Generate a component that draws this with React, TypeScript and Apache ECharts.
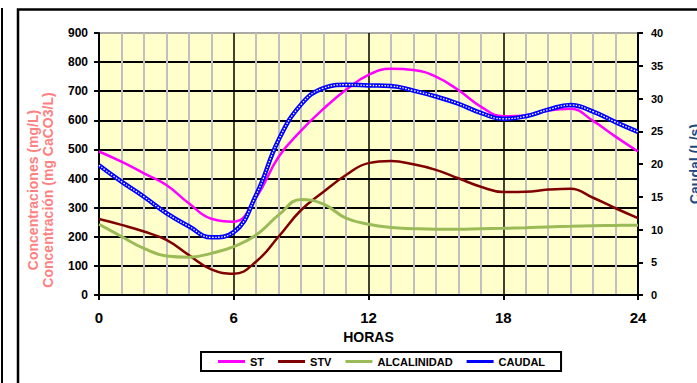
import React, { useEffect, useRef } from "react";
import * as echarts from "echarts";

const HOURS = [0, 1, 2, 3, 4, 5, 6, 7, 8, 9, 10, 11, 12, 13, 14, 15, 16, 17, 18, 19, 20, 21, 22, 23, 24];
const ST = [493, 458, 418, 378, 315, 262, 252, 335, 475, 565, 640, 705, 756, 777, 773, 750, 704, 647, 614, 617, 634, 640, 598, 544, 493];
const STV = [261, 241, 218, 189, 137, 88, 73, 115, 201, 292, 355, 412, 453, 460, 449, 430, 401, 372, 354, 355, 362, 365, 334, 298, 264];
const ALCALINIDAD = [243, 201, 160, 134, 130, 143, 166, 206, 275, 328, 312, 264, 243, 232, 228, 226, 226, 228, 229, 231, 234, 236, 238, 239, 240];
const CAUDAL = [19.8, 17.3, 15.0, 12.5, 10.5, 8.8, 9.6, 15.3, 23.7, 29.1, 31.6, 32.1, 32.0, 31.9, 31.2, 30.3, 29.2, 27.8, 26.9, 27.3, 28.3, 29.0, 28.0, 26.4, 24.9];

const LEGEND = ["ST", "STV", "ALCALINIDAD", "CAUDAL"];
const X_NAME = "HORAS";
const Y_LEFT_NAMES = ["Concentraciones (mg/L)", "Concentración (mg CaCO3/L)"];
const Y_RIGHT_NAME = "Caudal (L/s)";

const FONT = "'Liberation Sans', Arial, sans-serif";

const pairs = (vals: number[]) => HOURS.map((h, i) => [h, vals[i]]);

export default function App() {
  const ref = useRef<HTMLDivElement>(null);
  useEffect(() => {
    if (!ref.current) return;
    const chart = echarts.init(ref.current, undefined, { renderer: "svg" });
    const lineSeries = (name: string, data: number[], color: string, width: number, yAxisIndex = 0) => ({
      type: "line",
      name,
      data: pairs(data),
      yAxisIndex,
      smooth: 0.45,
      symbol: "none",
      showSymbol: false,
      lineStyle: { color, width },
      itemStyle: { color },
    });
    chart.setOption({
      animation: false,
      textStyle: { fontFamily: FONT },
      grid: {
        left: 99,
        right: 59,
        top: 33,
        bottom: 88,
        containLabel: false,
        outerBoundsMode: "none",
        show: true,
        backgroundColor: "#FFFFCC",
        borderColor: "#909090",
        borderWidth: 1.5,
      },
      legend: {
        data: LEGEND,
        left: 201,
        top: 352,
        padding: [4, 16, 4, 17],
        itemGap: 14,
        itemWidth: 27,
        itemHeight: 3,
        icon: "rect",
        borderColor: "#000",
        borderWidth: 2,
        textStyle: { color: "#000", fontWeight: "bold", fontSize: 11, fontFamily: FONT },
      },
      xAxis: {
        type: "value",
        min: 0,
        max: 24,
        interval: 6,
        name: X_NAME,
        nameLocation: "middle",
        nameGap: 34,
        nameTextStyle: { color: "#000", fontWeight: "bold", fontSize: 14, fontFamily: FONT },
        axisLine: { lineStyle: { color: "#000", width: 2 } },
        axisTick: { show: true, inside: false, length: 5, lineStyle: { color: "#000", width: 2 } },
        axisLabel: { color: "#000", fontWeight: "bold", fontSize: 15, margin: 15, fontFamily: FONT },
        splitLine: { show: true, lineStyle: { color: "#000", width: 1.5 } },
        minorTick: { show: false, splitNumber: 6 },
        minorSplitLine: { show: true, lineStyle: { color: "#C0C0C0", width: 2 } },
      },
      yAxis: [
        {
          type: "value",
          min: 0,
          max: 900,
          interval: 100,
          position: "left",
          axisLine: { show: true, lineStyle: { color: "#000", width: 2 } },
          axisTick: { show: true, inside: false, length: 5, lineStyle: { color: "#000", width: 2 } },
          axisLabel: { color: "#000", fontWeight: "bold", fontSize: 12, margin: 11, fontFamily: FONT },
          splitLine: { show: true, showMaxLine: false, lineStyle: { color: "#000", width: 2 } },
        },
        {
          type: "value",
          min: 0,
          max: 40,
          interval: 5,
          position: "right",
          name: Y_RIGHT_NAME,
          nameLocation: "middle",
          nameRotate: 90,
          nameGap: 50,
          nameTextStyle: { color: "#1F497D", fontWeight: "bold", fontSize: 14, fontFamily: FONT },
          axisLine: { show: true, lineStyle: { color: "#000", width: 2 } },
          axisTick: { show: true, inside: false, length: 5, lineStyle: { color: "#000", width: 2 } },
          axisLabel: { color: "#000", fontWeight: "bold", fontSize: 11, margin: 13, fontFamily: FONT },
          splitLine: { show: false },
        },
      ],
      series: [
        lineSeries("ST", ST, "#FF00FF", 2.5),
        lineSeries("STV", STV, "#800000", 2.5),
        lineSeries("ALCALINIDAD", ALCALINIDAD, "#9BBB59", 3),
        lineSeries("CAUDAL", CAUDAL, "#0000FF", 4.5, 1),
        {
          ...lineSeries("CAUDAL trama", CAUDAL, "#FFFFFF", 1.3, 1),
          lineStyle: { color: "#FFFFFF", width: 1.3, type: [1.5, 1.5] },
        },
      ],
      graphic: [
        {
          type: "line",
          shape: { x1: 2, y1: 8, x2: 2, y2: 383 },
          style: { stroke: "#000", lineWidth: 2 },
          silent: true,
        },
        {
          type: "rect",
          shape: { x: 18, y: 9.5, width: 700, height: 400 },
          style: { fill: "none", stroke: "#000", lineWidth: 2.5 },
          silent: true,
        },
        {
          type: "text",
          x: 33,
          y: 190,
          rotation: Math.PI / 2,
          style: {
            text: Y_LEFT_NAMES[0],
            fill: "#FF8080",
            font: `bold 14px ${FONT}`,
            align: "center",
            verticalAlign: "middle",
          },
        },
        {
          type: "text",
          x: 48,
          y: 190,
          rotation: Math.PI / 2,
          style: {
            text: Y_LEFT_NAMES[1],
            fill: "#FF8080",
            font: `bold 14px ${FONT}`,
            align: "center",
            verticalAlign: "middle",
          },
        },
      ],
    });
    return () => chart.dispose();
  }, []);
  return (
    <div
      ref={ref}
      style={{ position: "fixed", left: 0, top: 0, width: 697, height: 383, background: "#fff" }}
    />
  );
}
